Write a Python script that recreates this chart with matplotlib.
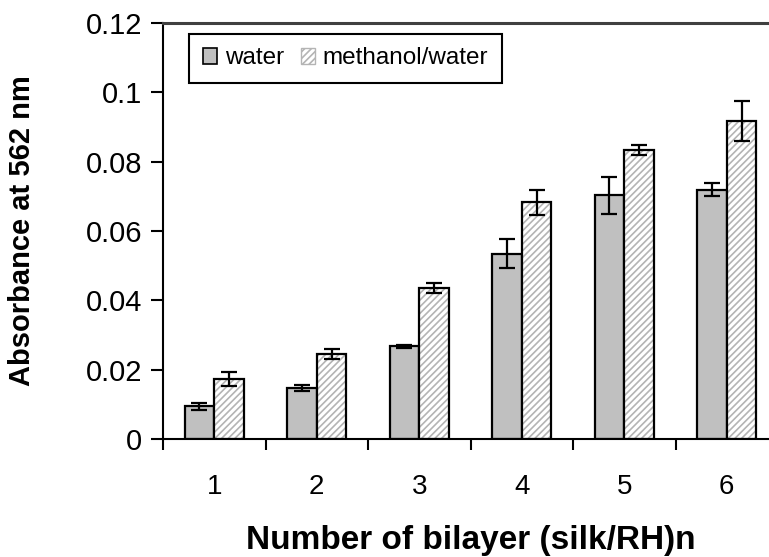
import numpy as np
import matplotlib
matplotlib.use("Agg")
import matplotlib.pyplot as plt
from matplotlib.patches import Patch

plt.rcParams['font.family'] = ['Liberation Sans', 'DejaVu Sans']
plt.rcParams['hatch.linewidth'] = 1.2

# data
bilayers = ['1', '2', '3', '4', '5', '6']
water = [0.0095, 0.0148, 0.0267, 0.0535, 0.0703, 0.0719]
water_err = [0.0010, 0.0009, 0.0005, 0.0042, 0.0053, 0.0019]
methanol = [0.0173, 0.0246, 0.0436, 0.0683, 0.0834, 0.0918]
methanol_err = [0.0020, 0.0015, 0.0014, 0.0036, 0.0015, 0.0057]

GRAY = '#c0c0c0'
HATCH_GRAY = '#b4b4b4'
bw = 0.29

fig = plt.figure(figsize=(7.69, 5.57), dpi=100)
ax = fig.add_axes([0.212, 0.2118, 0.7997, 0.7469])

x = np.arange(1, len(bilayers) + 1)

ax.bar(x - bw / 2, water, bw, color=GRAY, edgecolor='black', linewidth=1.6, zorder=2)
ax.errorbar(x - bw / 2, water, yerr=water_err, fmt='none', ecolor='black',
            elinewidth=1.6, capsize=6, capthick=1.6, zorder=3)

# hatched bars: gray hatch first, black outline on top
ax.bar(x + bw / 2, methanol, bw, color='white', edgecolor=HATCH_GRAY, hatch='/////',
       linewidth=0, zorder=2)
ax.bar(x + bw / 2, methanol, bw, fill=False, edgecolor='black', linewidth=1.6, zorder=2)
ax.errorbar(x + bw / 2, methanol, yerr=methanol_err, fmt='none', ecolor='black',
            elinewidth=1.6, capsize=6, capthick=1.6, zorder=3)

ax.set_xlim(0.5, len(bilayers) + 0.5)
ax.set_ylim(0, 0.12)
ax.set_yticks([0, 0.02, 0.04, 0.06, 0.08, 0.1, 0.12])
ax.set_yticklabels(['0', '0.02', '0.04', '0.06', '0.08', '0.1', '0.12'])

# ticks between groups, labels at group centres
ax.set_xticks(np.arange(0.5, len(bilayers) + 1, 1.0))
ax.set_xticklabels([])
ax.set_xticks(x, minor=True)
ax.set_xticklabels(bilayers, minor=True)
ax.tick_params(axis='x', which='major', direction='out', length=8, width=1.5)
ax.tick_params(axis='x', which='minor', length=0, pad=25, labelsize=20)
ax.tick_params(axis='y', direction='out', length=9, width=1.5, labelsize=21, pad=6)

for s in ['left', 'bottom']:
    ax.spines[s].set_linewidth(1.5)
ax.spines['top'].set_linewidth(2.2)
ax.spines['top'].set_color('#404040')
ax.spines['right'].set_visible(False)

ax.set_ylabel('Absorbance at 562 nm', fontsize=21, fontweight='bold', labelpad=36)
ax.set_xlabel('Number of bilayer (silk/RH)n', fontsize=24, fontweight='bold', labelpad=18)

handles = [Patch(facecolor=GRAY, edgecolor='black', linewidth=1.2),
           Patch(facecolor='white', edgecolor=HATCH_GRAY, hatch='/////')]
leg = ax.legend(handles, ['water', 'methanol/water'], loc='upper left',
                bbox_to_anchor=(0.035, 0.985), ncol=2, fontsize=17.5,
                handlelength=0.6, handleheight=0.6, handletextpad=0.3,
                columnspacing=0.7, fancybox=False, framealpha=1,
                edgecolor='black', borderpad=0.55, borderaxespad=0.2)
leg.get_frame().set_linewidth(1.5)

fig.savefig('out.png', dpi=100)
